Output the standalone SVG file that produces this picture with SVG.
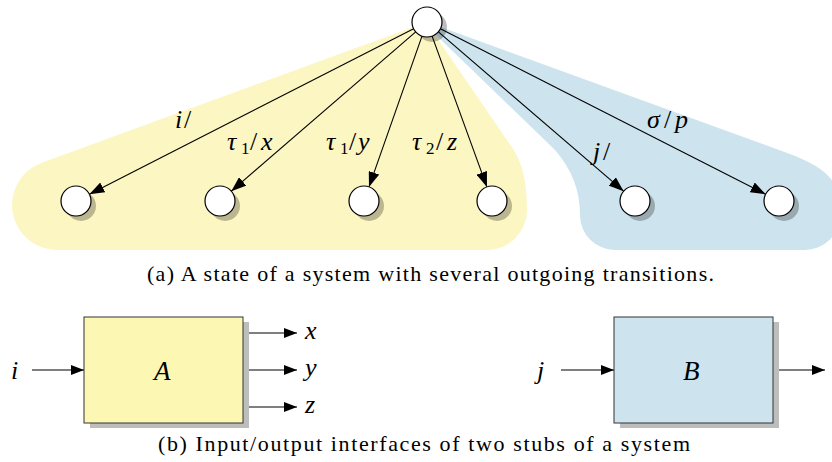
<svg xmlns="http://www.w3.org/2000/svg" width="832" height="462" viewBox="0 0 832 462">
<style>
.m{font-family:"Liberation Serif","DejaVu Serif",serif;font-style:italic;font-size:26px;fill:#000}
.u{font-style:normal}
.s{font-style:normal;font-size:17px}
.cap{font-family:"Liberation Serif","DejaVu Serif",serif;font-size:22px;fill:#000}
.edge{stroke:#000;stroke-width:1.1;fill:none}
.st{fill:#fff;stroke:#000;stroke-width:1.2}
.sh{fill:#000;fill-opacity:0.26}
.box{stroke:#333;stroke-width:1}
.bsh{fill:#bdbdbd}
</style>
<defs>
<marker id="ah" markerUnits="userSpaceOnUse" markerWidth="15" markerHeight="11" refX="15" refY="5.5" orient="auto">
<path d="M0,0 L15,5.5 L0,11 Z" fill="#000"/>
</marker>
<marker id="ah2" markerUnits="userSpaceOnUse" markerWidth="13" markerHeight="10" refX="13" refY="5" orient="auto">
<path d="M0,0 L13,5 L0,10 Z" fill="#000"/>
</marker>
</defs>
<g id="regions">
<path id="yellow-region" d="M427,22 L41.7,162.7 A45,45 0 0 0 57,250 L487,250 A40,40 0 0 0 527,210 C527,180 522,160 509,143 L435,35 Z" fill="#fcf6c3"/>
<path id="blue-region" d="M427,22 L790,154 C822,166 840,180 840,205 L840,215 A35,35 0 0 1 805,250 L615,250 A35,35 0 0 1 580,215 C580,190 572,170 555,150 L437,36 Z" fill="#cde4ee"/>
</g>
<g id="connectors">
<line class="edge" x1="413.6" y1="28.8" x2="89.4" y2="194.2" marker-end="url(#ah)"/>
<line class="edge" x1="415.7" y1="31.8" x2="231.3" y2="191.2" marker-end="url(#ah)"/>
<line class="edge" x1="422" y1="36.1" x2="369" y2="186.9" marker-end="url(#ah)"/>
<line class="edge" x1="432.1" y1="36.1" x2="486.9" y2="186.9" marker-end="url(#ah)"/>
<line class="edge" x1="438.4" y1="31.8" x2="623.6" y2="191.2" marker-end="url(#ah)"/>
<line class="edge" x1="440.4" y1="28.8" x2="765.6" y2="194.2" marker-end="url(#ah)"/>
<line class="edge" x1="32" y1="370" x2="84" y2="370" marker-end="url(#ah2)"/>
<line class="edge" x1="243" y1="333" x2="297" y2="333" marker-end="url(#ah2)"/>
<line class="edge" x1="243" y1="370" x2="297" y2="370" marker-end="url(#ah2)"/>
<line class="edge" x1="243" y1="407" x2="297" y2="407" marker-end="url(#ah2)"/>
<line class="edge" x1="561" y1="370" x2="614" y2="370" marker-end="url(#ah2)"/>
<line class="edge" x1="773" y1="370" x2="825" y2="370" marker-end="url(#ah2)"/>
<text class="m" y="128"><tspan x="175">i</tspan><tspan class="u" x="184">/</tspan></text>
<text class="m" y="150"><tspan x="227">τ</tspan><tspan class="s" x="241" dy="4">1</tspan><tspan class="u" x="250" dy="-4">/</tspan><tspan x="261">x</tspan></text>
<text class="m" y="150"><tspan x="326">τ</tspan><tspan class="s" x="340" dy="4">1</tspan><tspan class="u" x="349" dy="-4">/</tspan><tspan x="358">y</tspan></text>
<text class="m" y="150"><tspan x="412">τ</tspan><tspan class="s" x="426" dy="4">2</tspan><tspan class="u" x="436" dy="-4">/</tspan><tspan x="447">z</tspan></text>
<text class="m" y="160"><tspan x="593">j</tspan><tspan class="u" x="603">/</tspan></text>
<text class="m" y="128"><tspan x="647">σ</tspan><tspan class="u" x="664">/</tspan><tspan x="675">p</tspan></text>
<text class="m" x="11" y="379">i</text>
<text class="m" x="305" y="339">x</text>
<text class="m" x="305" y="376">y</text>
<text class="m" x="305" y="413">z</text>
<text class="m" x="537" y="379">j</text>
</g>
<g id="s0"><circle class="sh" cx="432" cy="27" r="15"/><circle class="st" cx="427" cy="22" r="15"/></g>
<g id="s1"><circle class="sh" cx="81" cy="206" r="15"/><circle class="st" cx="76" cy="201" r="15"/></g>
<g id="s2"><circle class="sh" cx="225" cy="206" r="15"/><circle class="st" cx="220" cy="201" r="15"/></g>
<g id="s3"><circle class="sh" cx="369" cy="206" r="15"/><circle class="st" cx="364" cy="201" r="15"/></g>
<g id="s4"><circle class="sh" cx="497" cy="206" r="15"/><circle class="st" cx="492" cy="201" r="15"/></g>
<g id="s5"><circle class="sh" cx="640" cy="206" r="15"/><circle class="st" cx="635" cy="201" r="15"/></g>
<g id="s6"><circle class="sh" cx="784" cy="206" r="15"/><circle class="st" cx="779" cy="201" r="15"/></g>
<g id="boxA"><rect class="bsh" x="90" y="322" width="159" height="106"/><rect class="box" x="84" y="317" width="159" height="106" fill="#fdf7b4"/><text class="m" x="154" y="380" style="font-size:27px">A</text></g>
<g id="boxB"><rect class="bsh" x="620" y="322" width="159" height="106"/><rect class="box" x="614" y="317" width="159" height="106" fill="#cde4ee"/><text class="m" x="683" y="380" style="font-size:27px">B</text></g>
<text class="cap" x="147" y="281" textLength="567" lengthAdjust="spacing">(a) A state of a system with several outgoing transitions.</text>
<text class="cap" x="158" y="451" textLength="532" lengthAdjust="spacing">(b) Input/output interfaces of two stubs of a system</text>
</svg>
